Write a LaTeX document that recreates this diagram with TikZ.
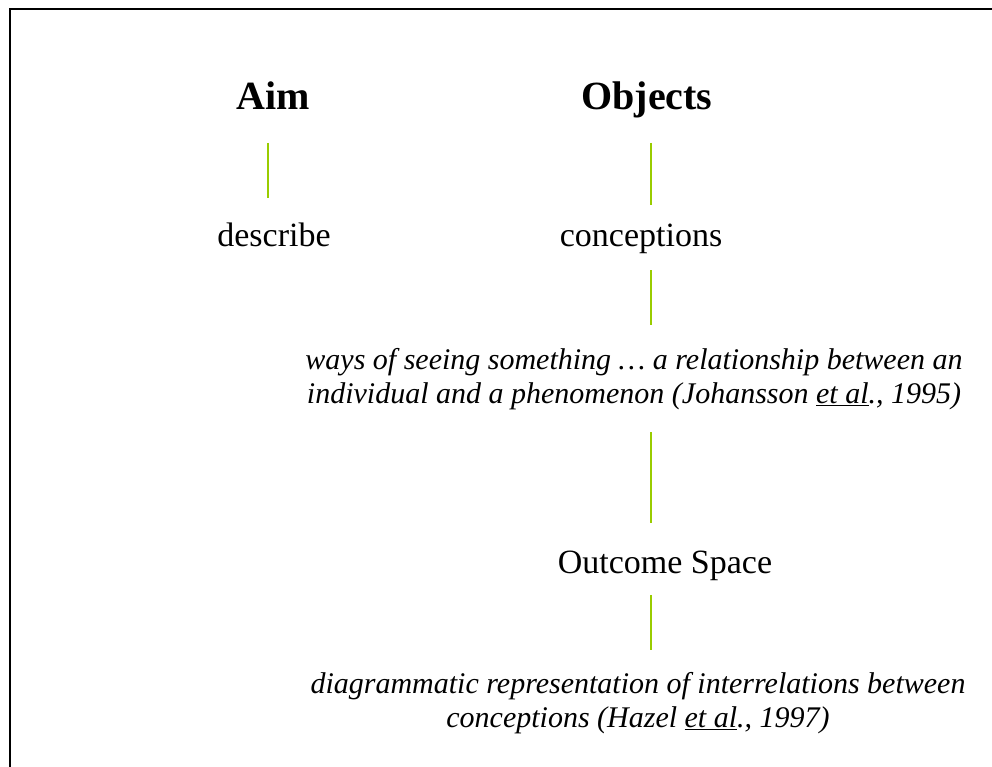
\documentclass[tikz,border=0pt]{standalone}
\usepackage{fontspec}
\setmainfont{Liberation Serif}
\definecolor{linkgreen}{RGB}{153,204,0}
\begin{document}
\begin{tikzpicture}[x=1pt,y=-1pt,
  heading/.style={font=\fontsize{40}{48}\selectfont\bfseries, inner sep=0pt, anchor=base},
  term/.style={font=\fontsize{34}{40}\selectfont, inner sep=0pt, anchor=base},
  gloss/.style={font=\fontsize{30}{34}\selectfont\itshape, inner sep=0pt, align=center, anchor=base},
  link/.style={draw=linkgreen, line width=2pt},
  frame/.style={line width=2pt}]
\useasboundingbox (0,0) rectangle (992,767);
% open frame: left and top edges
\draw[frame] (10,767) -- (10,9) -- (992,9);

% headings and terms (gloss nodes sit on the baseline of their last line)
\node[heading] (aim) at (273,110) {Aim};
\node[heading] (objects) at (647,110) {Objects};
\node[term] (describe) at (274,247) {describe};
\node[term] (conceptions) at (641,247) {conceptions};
\node[gloss] (ways) at (634,403)
  {ways of seeing something \dots\ a relationship between an\\
   individual and a phenomenon (Johansson \underline{et al}., 1995)};
\node[term] (outcome) at (665,573) {Outcome Space};
\node[gloss] (diagram) at (638,727)
  {diagrammatic representation of interrelations between\\
   conceptions (Hazel \underline{et al}., 1997)};

% connector end points
\coordinate (aimA) at (268,143);  \coordinate (aimB) at (268,198);
\coordinate (objA) at (651,143);  \coordinate (objB) at (651,205);
\coordinate (conA) at (651,270);  \coordinate (conB) at (651,325);
\coordinate (wayA) at (651,432);  \coordinate (wayB) at (651,523);
\coordinate (outA) at (651,595);  \coordinate (outB) at (651,650);

\draw[link] (aimA) -- (aimB);
\draw[link] (objA) -- (objB);
\draw[link] (conA) -- (conB);
\draw[link] (wayA) -- (wayB);
\draw[link] (outA) -- (outB);
\end{tikzpicture}
\end{document}
